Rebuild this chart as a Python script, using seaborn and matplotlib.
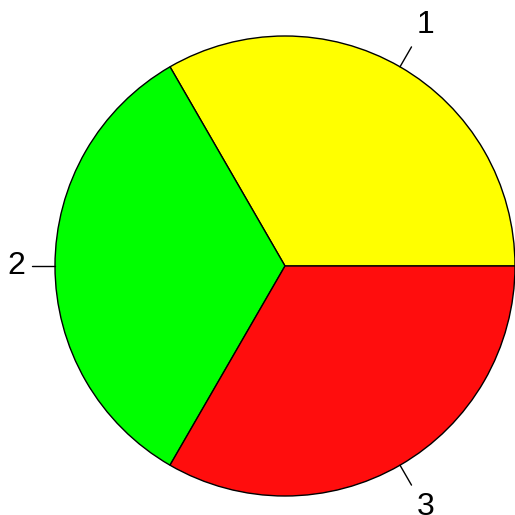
import matplotlib
matplotlib.use("Agg")
import matplotlib.pyplot as plt
import numpy as np
import seaborn as sns

# ── Data ───────────────────────────────────────────────────────────────────────
labels = ["1", "2", "3"]
values = [1, 1, 1]
colors = ["#FFFF00", "#00FF00", "#FF0D0D"]

sns.set_style("white")
plt.rcParams["font.family"] = ["Liberation Sans", "DejaVu Sans"]
plt.rcParams["text.color"] = "black"

# figure in pixel coordinates (y up)
W = 515
cx, cy, R = 285, W - 266, 230

fig = plt.figure(figsize=(5.15, 5.15), dpi=100)
ax = fig.add_axes([0, 0, 1, 1])
ax.set_xlim(0, W)
ax.set_ylim(0, W)
ax.set_aspect("equal")
ax.axis("off")

wedges, _ = ax.pie(
    values, colors=colors, startangle=0, counterclock=True,
    center=(cx, cy), radius=R, frame=True,
    wedgeprops={"edgecolor": "black", "linewidth": 1.0},
)
for w in wedges:
    w.set_clip_on(False)

# tick marks and labels at slice midpoints
total = sum(values)
start = 0.0
for lab, v in zip(labels, values):
    mid = np.deg2rad((start + v / 2) / total * 360)
    start += v
    ux, uy = np.cos(mid), np.sin(mid)
    ax.plot([cx + R * ux, cx + 1.1 * R * ux], [cy + R * uy, cy + 1.1 * R * uy],
            color="black", lw=1.0, clip_on=False)
    ha = "left" if ux > 0.01 else ("right" if ux < -0.01 else "center")
    ax.text(cx + 1.13 * R * ux + (2 if ux > 0.01 else 0),
            cy + 1.21 * R * uy, lab, ha=ha, va="center", fontsize=23,
            color="black", clip_on=False)

ax.set_xlim(0, W)
ax.set_ylim(0, W)
ax.axis("off")
fig.savefig("out.png", dpi=100)
